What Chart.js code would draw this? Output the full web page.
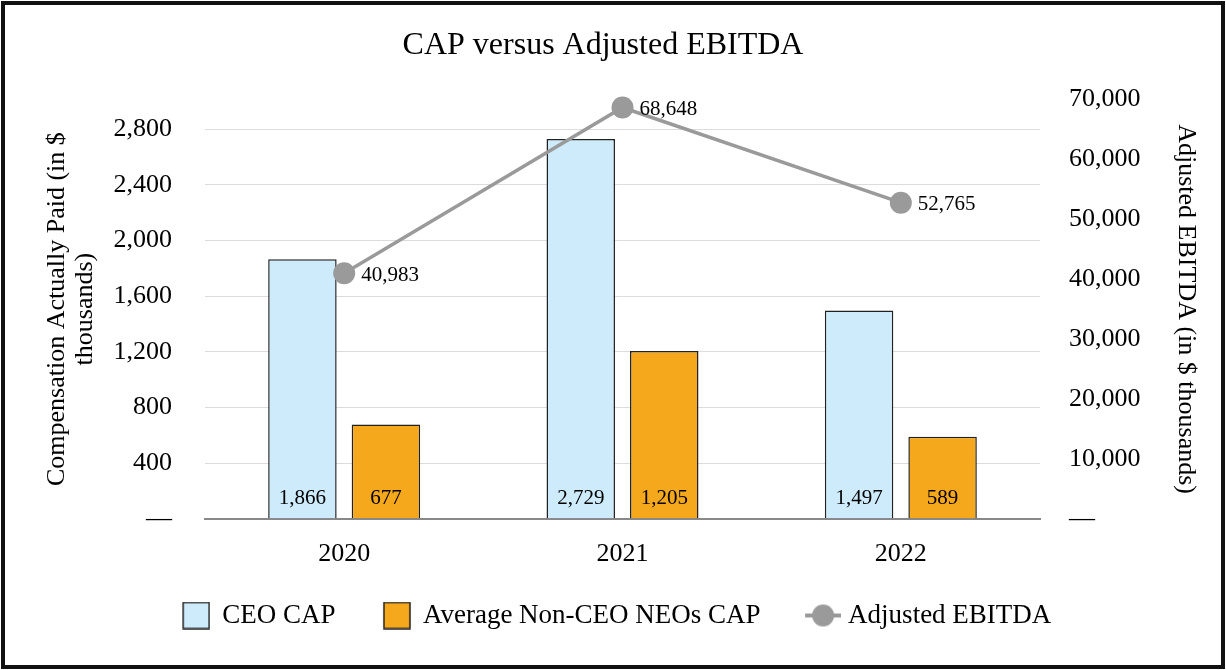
<!DOCTYPE html>
<html>
<head>
<meta charset="utf-8">
<script src="https://cdn.jsdelivr.net/npm/chart.js@4"></script>
<style>
  html, body { margin: 0; padding: 0; background: #fff; }
  #frame {
    position: absolute; left: 1px; top: 1px;
    width: 1216px; height: 660px;
    border: 4px solid #111;
  }
  canvas { display: block; }
</style>
</head>
<body>
<div id="frame"><canvas id="chart" width="1216" height="660"></canvas></div>
<script>
const years = ['2020', '2021', '2022'];
const ceoCap = [1866, 2729, 1497];
const neoCap = [677, 1205, 589];
const ebitda = [40983, 68648, 52765];

const SERIF = '"Liberation Serif", "Times New Roman", serif';
const BLUE = '#cdebfb';
const ORANGE = '#f6a81d';
const GREY = '#9a9a9a';
const SLOT = 54; // legend symbol slot width
const fmt = v => v.toLocaleString('en-US');

// legend symbols: drawn at the right end of a wider transparent canvas
function boxIcon(fill) {
  const c = document.createElement('canvas');
  c.width = SLOT + 3; c.height = 28;
  const g = c.getContext('2d');
  const x0 = c.width - 28;
  g.fillStyle = fill;
  g.fillRect(x0 + 1, 1, 26, 26);
  g.strokeStyle = '#222';
  g.lineWidth = 1.5;
  g.strokeRect(x0 + 1, 1, 26, 26);
  return c;
}
function lineIcon() {
  const c = document.createElement('canvas');
  c.width = SLOT + 13; c.height = 26;
  const g = c.getContext('2d');
  const x0 = c.width - 36;
  g.strokeStyle = GREY;
  g.lineWidth = 4;
  g.beginPath(); g.moveTo(x0, 13); g.lineTo(x0 + 36, 13); g.stroke();
  g.fillStyle = GREY;
  g.beginPath(); g.arc(x0 + 18, 13, 11, 0, Math.PI * 2); g.fill();
  return c;
}
const icons = [boxIcon(BLUE), boxIcon(ORANGE), lineIcon()];

// value labels
const valueLabels = {
  id: 'valueLabels',
  afterDatasetsDraw(chart) {
    const ctx = chart.ctx;
    ctx.save();
    ctx.font = '21px ' + SERIF;
    ctx.fillStyle = '#000';
    chart.data.datasets.forEach((ds, i) => {
      const meta = chart.getDatasetMeta(i);
      meta.data.forEach((el, j) => {
        const txt = fmt(ds.data[j]);
        ctx.textBaseline = 'middle';
        if (ds.type === 'line') {
          ctx.textAlign = 'left';
          ctx.fillText(txt, el.x + 17, el.y + 2);
        } else {
          ctx.textAlign = 'center';
          ctx.fillText(txt, el.x, el.base - 20);
        }
      });
    });
    ctx.restore();
  }
};

new Chart(document.getElementById('chart'), {
  data: {
    labels: years,
    datasets: [
      {
        type: 'bar', label: 'CEO CAP', data: ceoCap, yAxisID: 'y',
        backgroundColor: BLUE, borderColor: '#222', borderWidth: 1.5,
        categoryPercentage: 0.6, barPercentage: 0.82, order: 2
      },
      {
        type: 'bar', label: 'Average Non-CEO NEOs CAP', data: neoCap, yAxisID: 'y',
        backgroundColor: ORANGE, borderColor: '#222', borderWidth: 1.5,
        categoryPercentage: 0.6, barPercentage: 0.82, order: 2
      },
      {
        type: 'line', label: 'Adjusted EBITDA', data: ebitda, yAxisID: 'y1',
        borderColor: GREY, borderWidth: 3.5, backgroundColor: GREY,
        pointRadius: 11, pointBackgroundColor: GREY, pointBorderWidth: 0,
        tension: 0, order: 1, clip: false
      }
    ]
  },
  options: {
    responsive: false,
    animation: false,
    layout: { padding: { left: 0, right: 20, top: 0, bottom: 26 } },
    plugins: {
      tooltip: { enabled: false },
      title: {
        display: true,
        text: 'CAP versus Adjusted EBITDA',
        color: '#000',
        font: { family: SERIF, size: 32, weight: 'normal' },
        padding: { top: 21, bottom: 35 }
      },
      legend: {
        position: 'bottom',
        labels: {
          usePointStyle: true,
          pointStyleWidth: SLOT,
          padding: 20,
          color: '#000',
          font: { family: SERIF, size: 27 },
          generateLabels: chart => chart.data.datasets.map((ds, i) => ({
            text: ds.label,
            pointStyle: icons[i],
            fontColor: '#000',
            datasetIndex: i,
            hidden: false,
            lineWidth: 0
          }))
        }
      }
    },
    scales: {
      x: {
        grid: { display: false },
        border: { display: true, color: '#888', width: 2 },
        ticks: { color: '#000', font: { family: SERIF, size: 26 }, padding: 12 }
      },
      y: {
        position: 'left',
        min: 0, max: 3014,
        grid: { color: '#dcdcdc', drawTicks: false },
        border: { display: false },
        ticks: {
          stepSize: 400, includeBounds: false, padding: 33,
          color: '#000', font: { family: SERIF, size: 26 },
          callback: v => v === 0 ? '—' : fmt(v)
        },
        title: {
          display: true,
          text: ['Compensation Actually Paid (in $', 'thousands)'],
          color: '#000',
          font: { family: SERIF, size: 26, lineHeight: 1.05 },
          padding: { top: 39, bottom: 0 }
        },
        afterFit: s => { s.width = 200; }
      },
      y1: {
        position: 'right',
        min: 0, max: 70000,
        grid: { display: false, drawTicks: false },
        border: { display: false },
        ticks: {
          stepSize: 10000, padding: 29,
          color: '#000', font: { family: SERIF, size: 26 },
          callback: v => v === 0 ? '—' : fmt(v)
        },
        title: {
          display: true,
          text: 'Adjusted EBITDA (in $ thousands)',
          color: '#000',
          font: { family: SERIF, size: 26, lineHeight: 1.05 },
          padding: { top: 2, bottom: 0 }
        },
        afterFit: s => { s.width = 161; }
      }
    }
  },
  plugins: [valueLabels]
});
</script>
</body>
</html>
